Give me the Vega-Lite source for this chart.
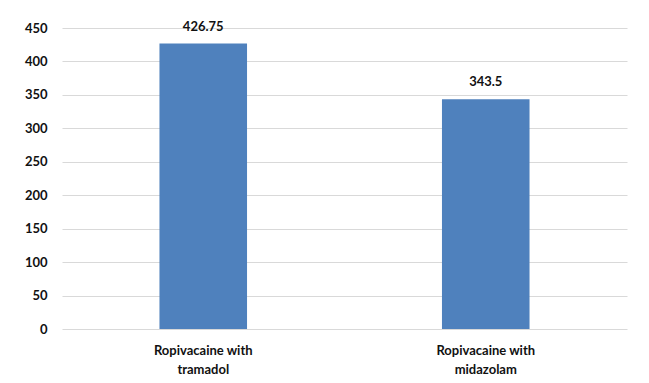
{
  "$schema": "https://vega.github.io/schema/vega-lite/v6.json",
  "autosize": "none",
  "width": 565,
  "height": 301,
  "padding": {"left": 62, "top": 28, "right": 22, "bottom": 54},
  "background": "white",
  "config": {
    "view": {"stroke": null},
    "font": "Lato",
    "axis": {"labelFont": "Lato", "labelFontWeight": "bold", "labelFontSize": 13, "labelColor": "#111111"}
  },
  "data": {
    "values": [
      {"group": "Ropivacaine with tramadol", "value": 426.75},
      {"group": "Ropivacaine with midazolam", "value": 343.5}
    ]
  },
  "encoding": {
    "x": {
      "field": "group",
      "type": "nominal",
      "sort": null,
      "scale": {"paddingInner": 0, "paddingOuter": 0},
      "axis": {
        "title": null,
        "labelAngle": 0,
        "domain": false,
        "ticks": false,
        "labelPadding": 15,
        "labelLineHeight": 19,
        "labelExpr": "[slice(datum.label, 0, 16), slice(datum.label, 17)]"
      }
    },
    "y": {
      "field": "value",
      "type": "quantitative",
      "scale": {"domain": [0, 450]},
      "axis": {
        "title": null,
        "values": [0, 50, 100, 150, 200, 250, 300, 350, 400, 450],
        "domain": false,
        "ticks": false,
        "labelPadding": 15,
        "gridColor": "#d9d9d9",
        "gridWidth": 1
      }
    }
  },
  "layer": [
    {
      "mark": {"type": "bar", "color": "#4f81bd", "width": {"band": 0.31}}
    },
    {
      "mark": {"type": "text", "baseline": "bottom", "dy": -10, "fontWeight": "bold", "fontSize": 13, "font": "Lato", "color": "#111111"},
      "encoding": {"text": {"field": "value", "type": "quantitative"}}
    }
  ]
}
